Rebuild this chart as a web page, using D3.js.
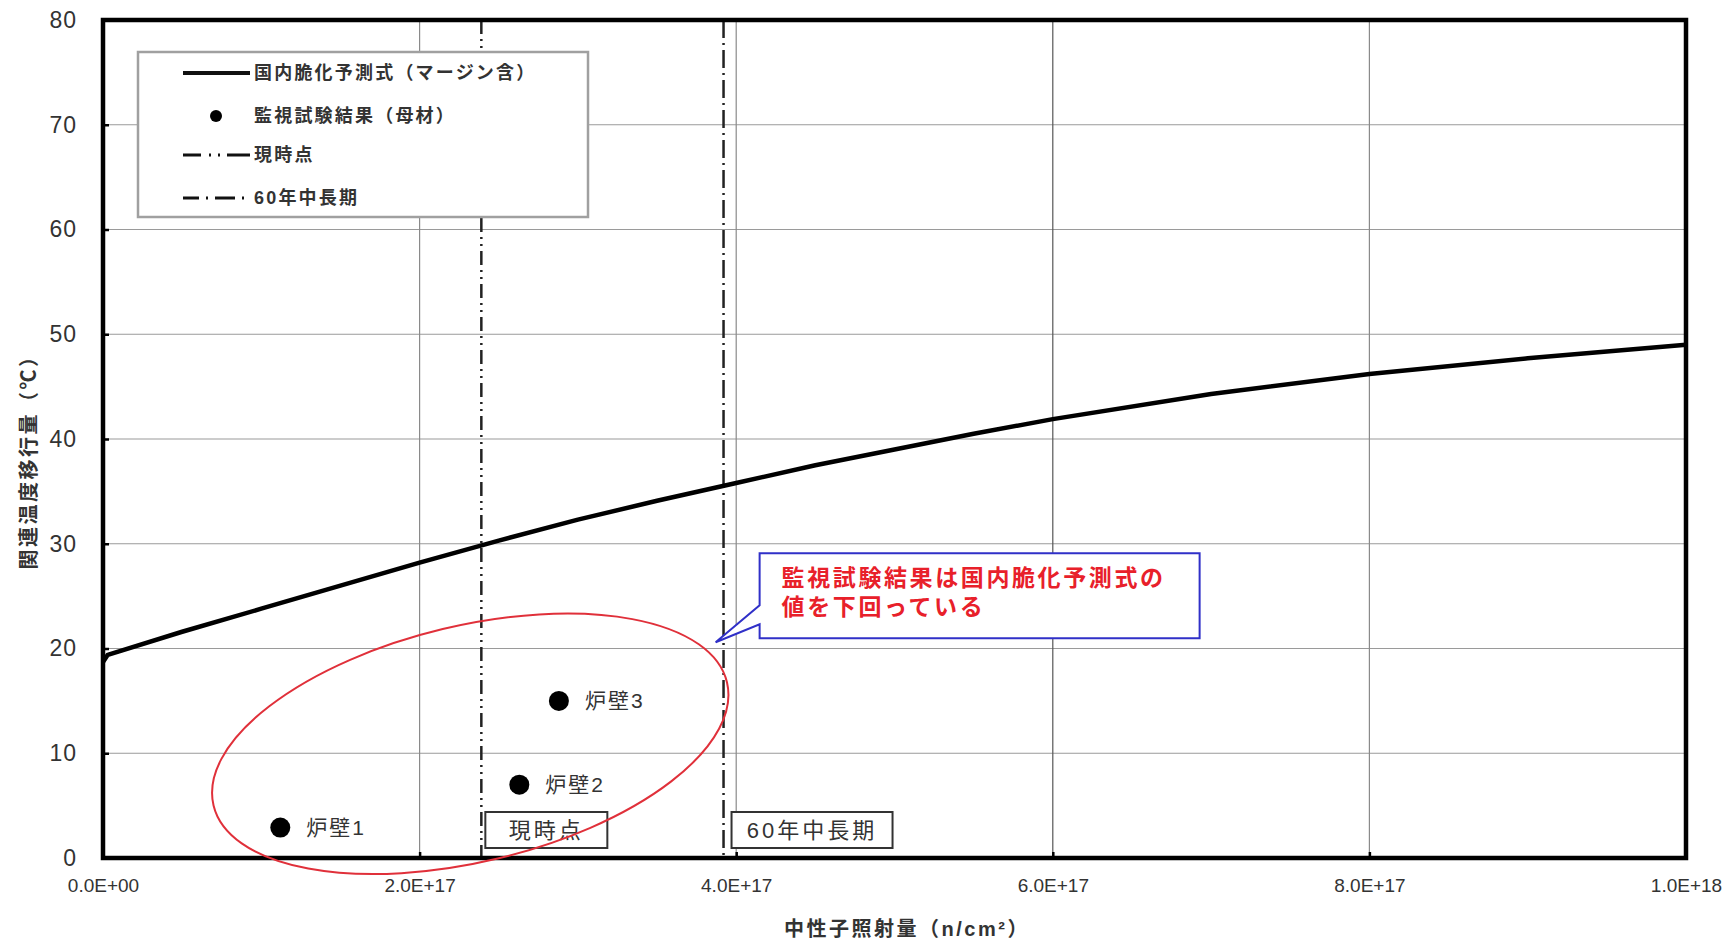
<!DOCTYPE html>
<html>
<head>
<meta charset="utf-8">
<script src="https://cdn.jsdelivr.net/npm/d3@7"></script>
<style>
  body { margin: 0; background: #fff; }
  text { font-family: "Liberation Sans", "Noto Sans CJK JP", sans-serif; }
</style>
</head>
<body>
<div id="content"></div>
<script>
// ---- data ----
const curveX = [0, 0.03e17, 0.5e17, 1e17, 1.5e17, 2e17, 2.5e17, 3e17, 3.5e17, 4e17, 4.5e17, 5e17, 5.5e17, 6e17, 7e17, 8e17, 9e17, 1e18];
const curveY = [18.7, 19.4, 21.6, 23.8, 26.0, 28.2, 30.3, 32.3, 34.1, 35.8, 37.5, 39.0, 40.5, 41.9, 44.3, 46.2, 47.7, 49.0];

const pointNames = ["炉壁1", "炉壁2", "炉壁3"];
const pointX = [1.12e17, 2.63e17, 2.88e17];
const pointY = [2.9, 7.0, 15.0];

const markerNames = ["現時点", "60年中長期"];
const markerX = [2.39e17, 3.92e17];
const markerDash = ["14,5,2,5,2,5", "18,5,2,5"];
const legendDash = ["18,8,2,7,2,7,30", "16,7,2,7,20,7,2,20"];

const xTicks = [0, 2e17, 4e17, 6e17, 8e17, 1e18];
const yTicks = [0, 10, 20, 30, 40, 50, 60, 70, 80];

const legendLabels = ["国内脆化予測式（マージン含）", "監視試験結果（母材）", "現時点", "60年中長期"];
const calloutLines = ["監視試験結果は国内脆化予測式の", "値を下回っている"];
const yTitle = "関連温度移行量（℃）";
const xTitle = "中性子照射量（n/cm²）";

// ---- layout ----
const W = 1731, H = 943;
const margin = { left: 103, top: 20, right: 45, bottom: 85 };
const innerWidth = W - margin.left - margin.right;
const innerHeight = H - margin.top - margin.bottom;

const svg = d3.select("#content").append("svg")
  .attr("width", W).attr("height", H);
svg.append("rect").attr("width", W).attr("height", H).attr("fill", "white");

const x = d3.scaleLinear().domain([0, 1e18]).range([0, innerWidth]);
const y = d3.scaleLinear().domain([0, 80]).range([innerHeight, 0]);

const g = svg.append("g").attr("transform", `translate(${margin.left},${margin.top})`);

// grid
g.selectAll(".hgrid").data(yTicks).join("line")
  .attr("x1", 0).attr("x2", innerWidth)
  .attr("y1", d => y(d)).attr("y2", d => y(d))
  .attr("stroke", "#9a9a9a").attr("stroke-width", 1.2);
g.selectAll(".vgrid").data(xTicks).join("line")
  .attr("x1", d => x(d)).attr("x2", d => x(d))
  .attr("y1", 0).attr("y2", innerHeight)
  .attr("stroke", d => d === 6e17 ? "#555" : "#8a8a8a").attr("stroke-width", 1.2);

// axes
const sciFmt = d => {
  if (d === 0) return "0.0E+00";
  const e = Math.floor(Math.log10(d));
  return (d / Math.pow(10, e)).toFixed(1) + "E+" + String(e).padStart(2, "0");
};
const yAxis = g.append("g")
  .call(d3.axisLeft(y).tickValues(yTicks).tickSizeInner(-6).tickSizeOuter(0).tickPadding(26));
yAxis.selectAll("text").attr("font-size", 23).attr("letter-spacing", 1).attr("fill", "#333");
const xAxis = g.append("g").attr("transform", `translate(0,${innerHeight})`)
  .call(d3.axisBottom(x).tickValues(xTicks).tickFormat(sciFmt).tickSizeInner(-6).tickSizeOuter(0).tickPadding(21));
xAxis.selectAll("text").attr("font-size", 19).attr("fill", "#333");
g.selectAll(".domain").remove();
g.selectAll(".tick line").attr("stroke", "#000").attr("stroke-width", 2.5);

// vertical marker lines
g.selectAll(".marker").data(markerX).join("line")
  .attr("x1", d => x(d)).attr("x2", d => x(d))
  .attr("y1", 0).attr("y2", innerHeight)
  .attr("stroke", "#222").attr("stroke-width", 2.5)
  .attr("stroke-dasharray", (d, i) => markerDash[i]);

// prediction curve
const curve = curveX.map((v, i) => [v, curveY[i]]);
g.append("path").datum(curve)
  .attr("d", d3.line().x(d => x(d[0])).y(d => y(d[1])))
  .attr("fill", "none").attr("stroke", "#000").attr("stroke-width", 4.5)
  .attr("stroke-linejoin", "round");

// frame
g.append("rect").attr("width", innerWidth).attr("height", innerHeight)
  .attr("fill", "none").attr("stroke", "#000").attr("stroke-width", 4.5);

// data points
pointX.forEach((v, i) => {
  g.append("circle").attr("cx", x(v)).attr("cy", y(pointY[i])).attr("r", 10).attr("fill", "#000");
  g.append("text").attr("x", x(v) + 26).attr("y", y(pointY[i]))
    .attr("dominant-baseline", "central").attr("font-size", 21).attr("letter-spacing", 2)
    .attr("fill", "#333").text(pointNames[i]);
});

// marker label boxes
const boxOff = [4, 8];
const boxW = [122, 161];
markerX.forEach((v, i) => {
  const bx = x(v) + boxOff[i];
  const bg = g.append("g");
  bg.append("rect").attr("x", bx).attr("y", innerHeight - 46)
    .attr("width", boxW[i]).attr("height", 36)
    .attr("fill", "#fff").attr("stroke", "#333").attr("stroke-width", 2);
  bg.append("text").attr("x", bx + boxW[i] / 2).attr("y", innerHeight - 28)
    .attr("text-anchor", "middle").attr("dominant-baseline", "central")
    .attr("font-size", 22).attr("letter-spacing", 3)
    .attr("fill", "#333").text(markerNames[i]);
});

// red ellipse annotation
const ellC = [2.32e17, 10.9];
g.append("ellipse")
  .attr("transform", `translate(${x(ellC[0])},${y(ellC[1])}) rotate(-13.5)`)
  .attr("rx", 264).attr("ry", 118)
  .attr("fill", "none").attr("stroke", "#e0303a").attr("stroke-width", 2);

// callout
const tip = [3.87e17, 20.6];
const tx = x(tip[0]), ty = y(tip[1]);
const bl = tx + 44, br = tx + 484, bt = ty - 89, bbm = ty - 4;
g.append("path")
  .attr("d", `M${bl},${bt}H${br}V${bbm}H${bl}V${ty - 18}L${tx},${ty}L${bl},${ty - 37}Z`)
  .attr("fill", "#fff").attr("stroke", "#3030c8").attr("stroke-width", 2);
calloutLines.forEach((s, i) => {
  g.append("text").attr("x", bl + 22).attr("y", bt + 25 + i * 29)
    .attr("dominant-baseline", "central").attr("font-size", 23).attr("letter-spacing", 2.6)
    .attr("font-weight", "bold").attr("fill", "#e8202a").text(s);
});

// legend
const lg = svg.append("g").attr("transform", "translate(138,52)");
lg.append("rect").attr("width", 450).attr("height", 165)
  .attr("fill", "#fff").attr("stroke", "#a0a0a0").attr("stroke-width", 2.5);
const rowY = [21, 64, 103, 146];
legendLabels.forEach((s, i) => {
  const r = lg.append("g").attr("transform", `translate(0,${rowY[i]})`);
  if (i === 1) {
    r.append("circle").attr("cx", 78).attr("cy", 0).attr("r", 6).attr("fill", "#000");
  } else {
    r.append("line").attr("x1", 45).attr("x2", 112).attr("y1", 0).attr("y2", 0)
      .attr("stroke", "#111").attr("stroke-width", i === 0 ? 4 : 3)
      .attr("stroke-dasharray", i === 0 ? null : legendDash[i - 2]);
  }
  r.append("text").attr("x", 116).attr("y", 0).attr("dominant-baseline", "central")
    .attr("font-size", 18).attr("letter-spacing", 2.2).attr("font-weight", "bold")
    .attr("fill", "#333").text(s);
});

// axis titles
svg.append("text")
  .attr("transform", `translate(29,${margin.top + innerHeight / 2 + 18}) rotate(-90)`)
  .attr("text-anchor", "middle").attr("dominant-baseline", "central")
  .attr("font-size", 20).attr("letter-spacing", 2.5).attr("font-weight", "bold")
  .attr("fill", "#333").text(yTitle);
svg.append("text")
  .attr("x", 907).attr("y", 929)
  .attr("text-anchor", "middle").attr("dominant-baseline", "central")
  .attr("font-size", 20).attr("letter-spacing", 2.5).attr("font-weight", "bold")
  .attr("fill", "#333").text(xTitle);
</script>
</body>
</html>
